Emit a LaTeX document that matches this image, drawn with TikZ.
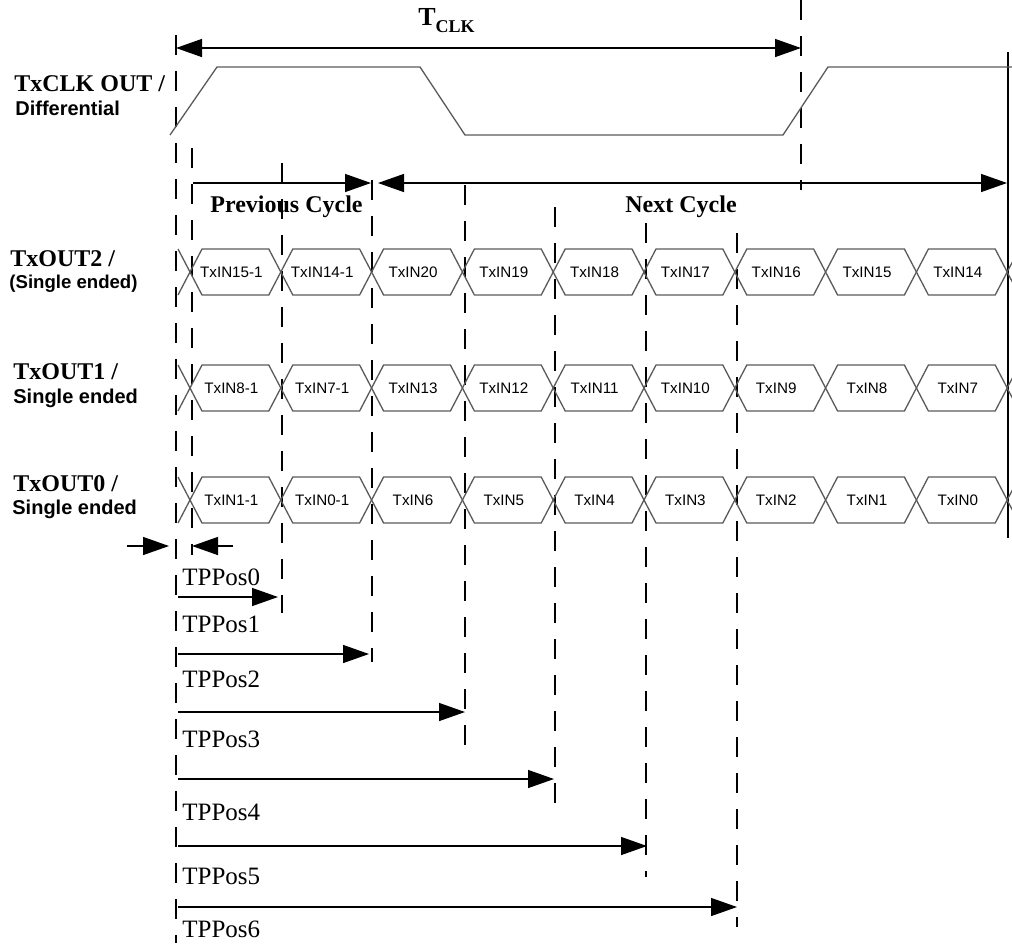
\documentclass[tikz,border=0pt]{standalone}
\usepackage{fontspec}
\setmainfont{Liberation Serif}
\setsansfont{Liberation Sans}
\usetikzlibrary{arrows.meta,positioning,calc}
\definecolor{wavegray}{HTML}{5A5A5A}

\tikzset{
  dimarrow/.style={-{Triangle[length=13pt,width=9pt]}, line width=0.7pt},
  dimboth/.style={{Triangle[length=13pt,width=9pt]}-{Triangle[length=13pt,width=9pt]}, line width=0.7pt},
  gridline/.style={dash pattern=on 10pt off 8pt, line width=0.7pt},
  waveline/.style={draw=wavegray, line width=0.65pt},
  siglabel/.style={anchor=base west, inner sep=0pt, font=\fontsize{12}{14}\selectfont\bfseries},
  sublabel/.style={anchor=base west, inner sep=0pt, font=\fontsize{10}{12}\selectfont\sffamily\bfseries},
  cellbit/.style={inner sep=0pt, font=\fontsize{7.6}{9}\selectfont\sffamily},
  poslabel/.style={anchor=base west, inner sep=0pt, font=\fontsize{12.5}{14}\selectfont}
}

\begin{document}
\begin{tikzpicture}[x=0.5pt, y=-0.5pt]
  \useasboundingbox (0,0) rectangle (1012,943);

  % signal names
  \node[siglabel] (clkname) at (14,91) {TxCLK OUT /};
  \node[sublabel] (clksub) at (15,115) {Differential};
  \node[siglabel] (out2name) at (10,266) {TxOUT2 /};
  \node[sublabel, font=\fontsize{9.3}{11}\selectfont\sffamily\bfseries] (out2sub) at (9,288) {(Single ended)};
  \node[siglabel] (out1name) at (13,379) {TxOUT1 /};
  \node[sublabel] (out1sub) at (13,403) {Single ended};
  \node[siglabel] (out0name) at (13,491) {TxOUT0 /};
  \node[sublabel] (out0sub) at (12,514) {Single ended};

  % timing guides
  \foreach \n/\x/\ya/\yb in {ga/176/35/943, gb/192/148/555, gc/282/163/613, gd/372/180/662,
      ge/465/185/745, gf/555/207/818, gg/646/223/877, gh/737/233/927, gclk/801/0/190} {
    \coordinate (\n top) at (\x,\ya);
    \coordinate (\n bot) at (\x,\yb);
    \draw[gridline] (\n top) -- (\n bot);
  }
  \coordinate (edgetop) at (1008,52);
  \coordinate (edgebot) at (1008,538);
  \draw[line width=0.7pt] (edgetop) -- (edgebot);

  % clock
  \draw[waveline] (170,135) -- (217,67) -- (420,67) -- (465,135) -- (783,135) -- (828,67) -- (1012,67);

  % period
  \node[anchor=base west, inner sep=0pt, font=\fontsize{13}{15}\selectfont\bfseries] (tclk) at (418,25)
    {T\raisebox{-3.5pt}{\fontsize{9}{10}\selectfont CLK}};
  \coordinate (tclkl) at (176,48);
  \coordinate (tclkr) at (801,48);
  \draw[dimboth] (tclkl) -- (tclkr);

  % cycles
  \coordinate (prevl) at (193,183);
  \coordinate (prevr) at (371,183);
  \coordinate (nextl) at (378,183);
  \coordinate (nextr) at (1007,183);
  \draw[dimarrow] (prevl) -- (prevr);
  \draw[dimboth] (nextl) -- (nextr);
  \node[anchor=base west, inner sep=0pt, font=\fontsize{12}{14}\selectfont\bfseries] (prevname) at (210,212) {Previous Cycle};
  \node[anchor=base west, inner sep=0pt, font=\fontsize{12}{14}\selectfont\bfseries] (nextname) at (625,212) {Next Cycle};

  % serial data
  \foreach \yc/\bits [count=\r] in {
      272/{TxIN15-1,TxIN14-1,TxIN20,TxIN19,TxIN18,TxIN17,TxIN16,TxIN15,TxIN14},
      388/{TxIN8-1,TxIN7-1,TxIN13,TxIN12,TxIN11,TxIN10,TxIN9,TxIN8,TxIN7},
      500/{TxIN1-1,TxIN0-1,TxIN6,TxIN5,TxIN4,TxIN3,TxIN2,TxIN1,TxIN0}} {
    \draw[waveline] (178,{\yc-23}) -- (190,\yc) -- (178,{\yc+23});
    \draw[waveline] (1013,{\yc-11}) -- (1007,\yc) -- (1013,{\yc+11});
    \foreach \b [count=\k from 0] in \bits {
      \pgfmathsetmacro\xa{190+90.8*\k}
      \pgfmathsetmacro\xb{\xa+90.8}
      \draw[waveline] (\xa,\yc) -- ({\xa+12},{\yc-23}) -- ({\xb-12},{\yc-23}) -- (\xb,\yc)
        -- ({\xb-12},{\yc+23}) -- ({\xa+12},{\yc+23}) -- cycle;
      \node[cellbit] (bit\r-\k) at ({(\xa+\xb)/2-4},\yc) {\b};
    }
  }

  % bit positions
  \coordinate (skewl) at (127,546);
  \coordinate (skewla) at (169,546);
  \coordinate (skewr) at (233,546);
  \coordinate (skewra) at (192,546);
  \draw[dimarrow] (skewl) -- (skewla);
  \draw[dimarrow] (skewr) -- (skewra);
  \foreach \i/\xe/\ya/\yl in {0/278/597/585, 1/369/654/632, 2/465/712/687,
      3/554/779/747, 4/647/846/820, 5/737/907/884} {
    \node[poslabel] (pos\i) at (182,\yl) {TPPos\i};
    \coordinate (pos\i s) at (178,\ya);
    \coordinate (pos\i e) at (\xe,\ya);
    \draw[dimarrow] (pos\i s) -- (pos\i e);
  }
  \node[poslabel] (pos6) at (182,937) {TPPos6};
\end{tikzpicture}
\end{document}
